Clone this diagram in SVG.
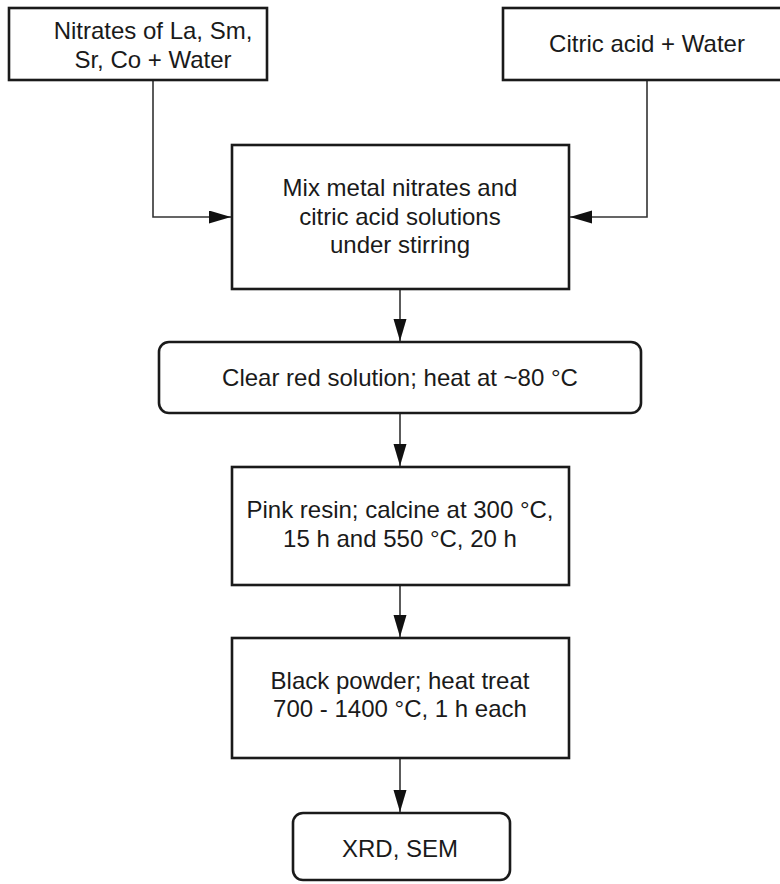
<svg xmlns="http://www.w3.org/2000/svg" width="780" height="884" viewBox="0 0 780 884">
<defs>
<style>
.box{fill:#fff;stroke:#1a1a1a;stroke-width:2.6}
.lbl{font-family:"Liberation Sans",Arial,sans-serif;font-size:24px;fill:#1a1a1a;text-anchor:middle}
.con{fill:none;stroke:#333;stroke-width:1.6}
</style>
<marker id="ah" markerUnits="userSpaceOnUse" markerWidth="23" markerHeight="14" refX="22" refY="6.5" orient="auto">
<path d="M0,0 L22,6.5 L0,13 z" fill="#111"/>
</marker>
</defs>
<rect width="780" height="884" fill="#fff"/>
<g id="connectors">
<polyline class="con" points="153,80 153,217 231,217" marker-end="url(#ah)"/>
<polyline class="con" points="647,80 647,217 570,217" marker-end="url(#ah)"/>
<line class="con" x1="400" y1="290" x2="400" y2="341" marker-end="url(#ah)"/>
<line class="con" x1="400" y1="414" x2="400" y2="466" marker-end="url(#ah)"/>
<line class="con" x1="400" y1="586" x2="400" y2="637" marker-end="url(#ah)"/>
<line class="con" x1="400" y1="759" x2="400" y2="812" marker-end="url(#ah)"/>
</g>
<g id="n1">
<rect class="box" x="9" y="8" width="258" height="72"/>
<text class="lbl" x="153" y="39">Nitrates of La, Sm,</text>
<text class="lbl" x="153" y="68">Sr, Co + Water</text>
</g>
<g id="n2">
<rect class="box" x="503" y="8" width="290" height="72"/>
<text class="lbl" x="647" y="52">Citric acid + Water</text>
</g>
<g id="n3">
<rect class="box" x="232" y="145" width="337" height="144"/>
<text class="lbl" x="400" y="196">Mix metal nitrates and</text>
<text class="lbl" x="400" y="224.5">citric acid solutions</text>
<text class="lbl" x="400" y="253">under stirring</text>
</g>
<g id="n4">
<rect class="box" x="159" y="342" width="482" height="71" rx="10" ry="10"/>
<text class="lbl" x="400" y="386">Clear red solution; heat at ~80 °C</text>
</g>
<g id="n5">
<rect class="box" x="232" y="467" width="337" height="118"/>
<text class="lbl" x="400" y="518">Pink resin; calcine at 300 °C,</text>
<text class="lbl" x="400" y="547">15 h and 550 °C, 20 h</text>
</g>
<g id="n6">
<rect class="box" x="232" y="638" width="337" height="120"/>
<text class="lbl" x="400" y="689">Black powder; heat treat</text>
<text class="lbl" x="400" y="717">700 - 1400 °C, 1 h each</text>
</g>
<g id="n7">
<rect class="box" x="293" y="813" width="217" height="67" rx="10" ry="10"/>
<text class="lbl" x="400" y="857">XRD, SEM</text>
</g>
</svg>
